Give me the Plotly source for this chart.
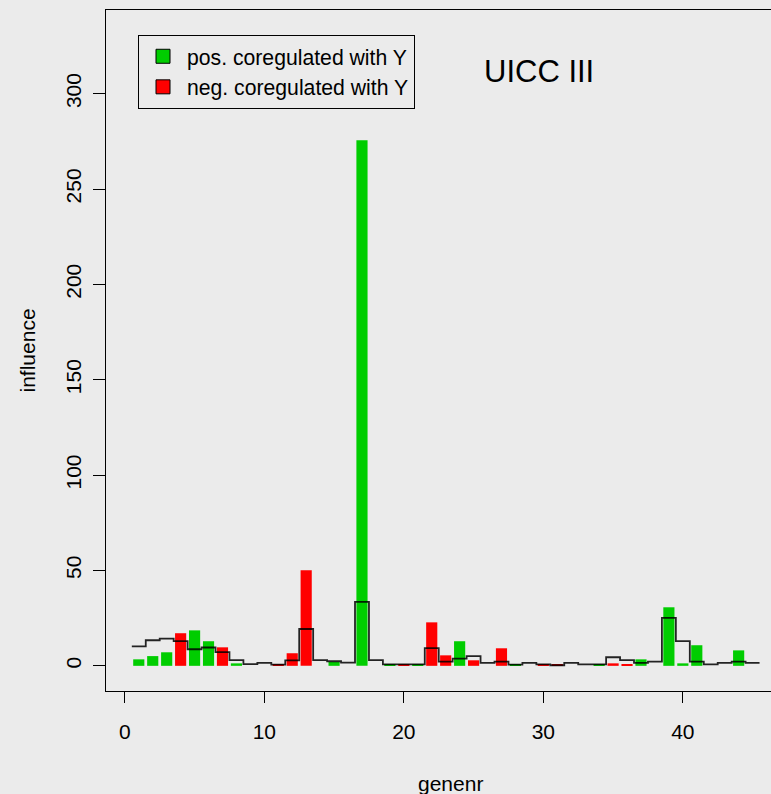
import plotly.graph_objects as go

# ---- data ----
genes = list(range(1, 46))
influence = [3.4, 5.1, 7.1, 17.1, 18.6, 12.9, 9.7, 1.3, 0.0, 0.0,
             0.7, 6.6, 50.1, 0.0, 2.0, 0.0, 275.6, 0.0, 0.9, 0.9,
             0.9, 22.8, 5.5, 12.9, 2.9, 0.0, 9.2, 0.8, 0.0, 0.8,
             0.6, 0.0, 0.0, 0.7, 1.3, 0.8, 3.4, 0.0, 30.7, 1.3,
             10.8, 0.0, 0.0, 8.1, 0.0]
direction = ['pos', 'pos', 'pos', 'neg', 'pos', 'pos', 'neg', 'pos', 'pos', 'pos',
             'neg', 'neg', 'neg', 'pos', 'pos', 'pos', 'pos', 'pos', 'pos', 'neg',
             'pos', 'neg', 'neg', 'pos', 'neg', 'pos', 'neg', 'pos', 'pos', 'neg',
             'neg', 'pos', 'pos', 'pos', 'neg', 'neg', 'pos', 'pos', 'pos', 'pos',
             'pos', 'pos', 'pos', 'pos', 'pos']
smooth = [10.2, 13.4, 14.3, 13.0, 8.7, 9.6, 7.2, 3.0, 0.9, 1.5,
          0.6, 2.9, 19.3, 3.0, 2.4, 1.7, 33.5, 3.0, 0.8, 0.8,
          0.8, 9.3, 2.2, 3.8, 5.1, 1.5, 2.2, 0.6, 1.5, 0.8,
          0.3, 1.5, 0.8, 0.8, 4.5, 3.0, 1.5, 2.2, 25.1, 13.0,
          2.2, 0.8, 1.5, 2.2, 1.5]
x_ticks = [0, 10, 20, 30, 40]
y_ticks = [0, 50, 100, 150, 200, 250, 300]
legend_labels = {'pos': 'pos. coregulated with Y', 'neg': 'neg. coregulated with Y'}
colors = {'pos': '#00CD00', 'neg': '#FF0000'}
title_text = 'UICC III'
x_title = 'genenr'
y_title = 'influence'

BG = '#EBEBEB'
FONT = 'Liberation Sans, Arial, Helvetica, sans-serif'

fig = go.Figure()

for key in ['pos', 'neg']:
    xs = [g for g, d in zip(genes, direction) if d == key]
    ys = [v for v, d in zip(influence, direction) if d == key]
    fig.add_trace(go.Bar(x=xs, y=ys, width=0.8, marker=dict(color=colors[key], line=dict(width=0)),
                         showlegend=False, name=legend_labels[key]))

# step line centred on each gene
step_x = [g - 0.5 for g in genes] + [genes[-1] + 0.5]
step_y = smooth + [smooth[-1]]
fig.add_trace(go.Scatter(x=step_x, y=step_y, mode='lines', line=dict(color='rgba(0,0,0,0.85)', width=1.8, shape='hv'),
                         showlegend=False, hoverinfo='skip'))

# legend entries
for key in ['pos', 'neg']:
    fig.add_trace(go.Scatter(x=[None], y=[None], mode='markers', name=legend_labels[key],
                             marker=dict(symbol='square', size=14, color=colors[key], line=dict(color='black', width=1))))

fig.add_annotation(x=29.7, y=311.5, xref='x', yref='y', text=title_text, showarrow=False,
                   font=dict(size=31, color='black', family=FONT))
fig.add_annotation(x=(450 - 106) / 665, y=(691 - 783) / 681, xref='paper', yref='paper', text=x_title,
                   showarrow=False, font=dict(size=21, color='black', family=FONT), xanchor='center', yanchor='middle')
fig.add_annotation(x=(27 - 106) / 665, y=0.5, xref='paper', yref='paper', text=y_title, textangle=-90,
                   showarrow=False, font=dict(size=21, color='black', family=FONT), xanchor='center', yanchor='middle')

fig.update_layout(
    width=771, height=794,
    margin=dict(l=106, r=0, t=10, b=103),
    paper_bgcolor=BG, plot_bgcolor=BG,
    font=dict(family=FONT, size=21, color='black'),
    barmode='overlay',
    showlegend=True,
    legend=dict(x=(138 - 106) / 665, y=(691 - 35) / 681, xanchor='left', yanchor='top',
                bgcolor='rgba(0,0,0,0)', bordercolor='black', borderwidth=1,
                font=dict(size=21.2, family=FONT, color='black'), itemwidth=38, tracegroupgap=0),
    xaxis=dict(range=[-1.35, 46.32], tickvals=x_ticks, ticks='outside', ticklen=11, tickwidth=1,
               tickcolor='black', showline=True, linecolor='black', linewidth=1.2, mirror=True,
               showgrid=False, zeroline=False, ticklabelstandoff=11,
               tickfont=dict(size=21, family=FONT, color='black')),
    yaxis=dict(range=[-13.2, 343.9], tickvals=y_ticks, ticks='outside', ticklen=12, tickwidth=1,
               tickcolor='black', showline=True, linecolor='black', linewidth=1.2, mirror=False,
               showgrid=False, zeroline=False, tickangle=-90, ticklabelstandoff=4,
               tickfont=dict(size=21, family=FONT, color='black')),
)

fig.write_html('out.html', config={'displayModeBar': False},
               post_script="document.body.style.margin='0';document.body.style.overflow='hidden';")
